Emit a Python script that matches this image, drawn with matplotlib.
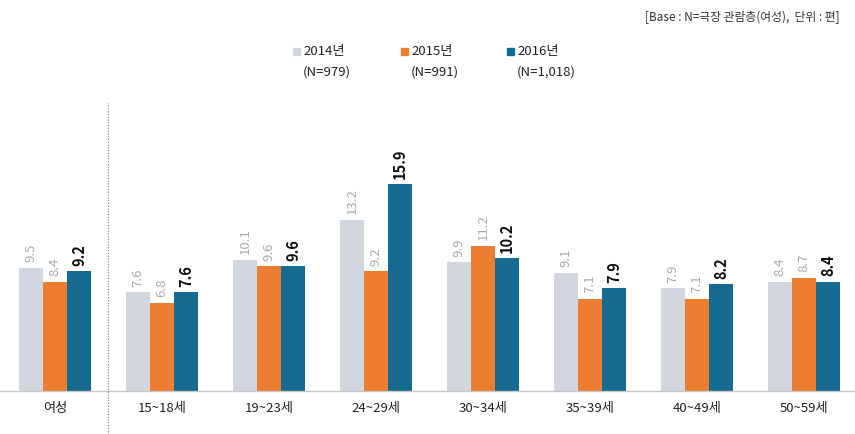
import matplotlib
matplotlib.use("Agg")
import matplotlib.pyplot as plt
import numpy as np
from matplotlib.lines import Line2D
from matplotlib.patches import Rectangle

plt.rcParams['font.family'] = ['Noto Sans CJK KR', 'DejaVu Sans']

categories = ['여성', '15~18세', '19~23세', '24~29세', '30~34세', '35~39세', '40~49세', '50~59세']
v2014 = [9.5, 7.6, 10.1, 13.2, 9.9, 9.1, 7.9, 8.4]
v2015 = [8.4, 6.8, 9.6, 9.2, 11.2, 7.1, 7.1, 8.7]
v2016 = [9.2, 7.6, 9.6, 15.9, 10.2, 7.9, 8.2, 8.4]
series_names = ['2014년', '2015년', '2016년']
series_n = ['(N=979)', '(N=991)', '(N=1,018)']
colors = ['#d2d7df', '#ed7d31', '#176a8f']

fig = plt.figure(figsize=(8.55, 4.34), dpi=100)
ax = fig.add_axes([0, 1 - 391 / 434, 1, (391 - 100) / 434])

x = np.arange(len(categories))
w = 0.224
series = [v2014, v2015, v2016]
for i, (vals, c) in enumerate(zip(series, colors)):
    pos = x + (i - 1) * w
    ax.bar(pos, vals, width=w, color=c, edgecolor='none', zorder=2)
    for p, v in zip(pos, vals):
        if i < 2:
            ax.annotate(f'{v}', (p, v), xytext=(0, 4), textcoords='offset points',
                        rotation=90, ha='center', va='bottom', fontsize=9.5, color='#aaaaaa')
        else:
            ax.annotate(f'{v}', (p, v), xytext=(0, 4), textcoords='offset points',
                        rotation=90, ha='center', va='bottom', fontsize=10.5,
                        color='#111111', fontweight='bold')

ax.set_xlim(-0.514, 7.477)
ax.set_ylim(0, 22.4)
ax.set_xticks(x)
ax.set_xticklabels(categories, fontsize=9.5, color='#222222')
ax.tick_params(axis='x', length=0, pad=8)
ax.set_yticks([])
for s in ['top', 'right', 'left']:
    ax.spines[s].set_visible(False)
ax.spines['bottom'].set_color('#c8c8c8')
ax.spines['bottom'].set_linewidth(1)

# divider
fig.add_artist(Line2D([108 / 855, 108 / 855], [0, 1 - 103 / 434], color='#777777',
                      linewidth=0.8, linestyle=(0, (1, 1.5))))

# header
fig.text(840 / 855, 1 - 17 / 434, '[Base : N=극장 관람층(여성),  단위 : 편]', ha='right', va='center',
         fontsize=8.5, color='#333333')

# legend
lx = [293, 401, 507]
for px, name, n, c in zip(lx, series_names, series_n, colors):
    fig.add_artist(Rectangle((px / 855, 1 - 55 / 434), 7 / 855, 7 / 434, color=c,
                             transform=fig.transFigure))
    fig.text((px + 10) / 855, 1 - 51 / 434, name, ha='left', va='center', fontsize=9.5, color='#222222')
    fig.text((px + 10) / 855, 1 - 72 / 434, n, ha='left', va='center', fontsize=9.5, color='#222222')

fig.savefig('out.png', dpi=100)
